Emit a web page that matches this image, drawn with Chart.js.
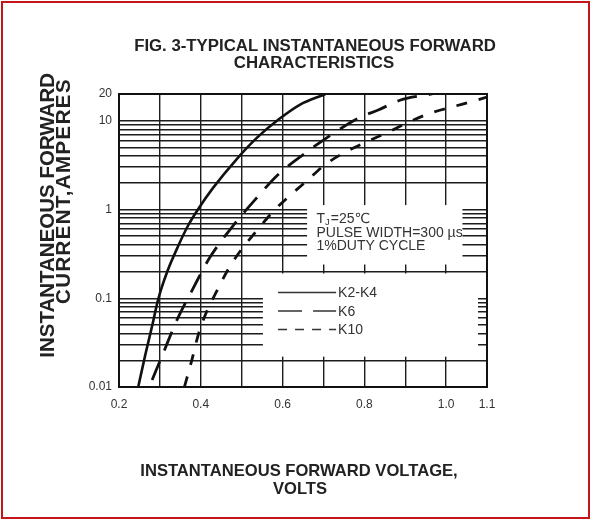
<!DOCTYPE html>
<html><head><meta charset="utf-8">
<script src="https://cdn.jsdelivr.net/npm/chart.js@4.4.1/dist/chart.umd.min.js"></script>
<style>
html,body{margin:0;padding:0;background:#fff;}
#wrap{position:relative;width:592px;height:520px;overflow:hidden;}
#frame{position:absolute;left:1px;top:1px;width:585px;height:514px;border:2px solid #c3161c;pointer-events:none;}
canvas{position:absolute;left:0;top:0;}
</style></head><body>
<div id="wrap"><canvas id="c" width="592" height="520"></canvas><div id="frame"></div></div>
<script>
// ---- text ----
const titleLines = ['FIG. 3-TYPICAL INSTANTANEOUS FORWARD', 'CHARACTERISTICS'];
const xTitleLines = ['INSTANTANEOUS FORWARD VOLTAGE,', 'VOLTS'];
const yTitleLines = ['INSTANTANEOUS FORWARD', 'CURRENT,AMPERES'];
const seriesNames = ['K2-K4', 'K6', 'K10'];
const noteLines = ['=25\u2103', 'PULSE WIDTH=300 \u00b5s', '1%DUTY CYCLE'];

// ---- ticks ----
const xTicks = [0.2, 0.3, 0.4, 0.5, 0.6, 0.7, 0.8, 0.9, 1.0, 1.1];
const xTickLabels = ['0.2', '', '0.4', '', '0.6', '', '0.8', '', '1.0', '1.1'];
const yTicks = [0.01, 0.02, 0.03, 0.04, 0.05, 0.06, 0.07, 0.08, 0.09,
                0.1, 0.2, 0.3, 0.4, 0.5, 0.6, 0.7, 0.8, 0.9,
                1, 2, 3, 4, 5, 6, 7, 8, 9, 10, 20];
const yTickLabels = ['0.01', '', '', '', '', '', '', '', '',
                     '0.1', '', '', '', '', '', '', '', '',
                     '1', '', '', '', '', '', '', '', '', '10', '20'];

// ---- series (V in volts, I in amperes) ----
const k24V = [0.247, 0.264, 0.282, 0.296, 0.317, 0.345, 0.369, 0.393, 0.43, 0.488, 0.537, 0.59, 0.643, 0.705];
const k24I = [0.01, 0.0227, 0.051, 0.098, 0.194, 0.39, 0.66, 1.0, 1.75, 3.7, 6.4, 10.3, 15.2, 20];
const k6V = [0.281, 0.308, 0.341, 0.38, 0.422, 0.476, 0.533, 0.59, 0.655, 0.728, 0.789, 0.834, 0.887, 0.966];
const k6I = [0.012, 0.024, 0.056, 0.126, 0.287, 0.63, 1.29, 2.49, 4.3, 7.4, 10.9, 13.2, 17, 20];
const k10V = [0.36, 0.378, 0.394, 0.414, 0.439, 0.467, 0.5, 0.537, 0.577, 0.614, 0.659, 0.704, 0.752, 0.806, 0.858, 0.907, 0.962, 1.017, 1.074, 1.1];
const k10I = [0.01, 0.02, 0.039, 0.07, 0.12, 0.212, 0.357, 0.577, 0.95, 1.38, 2.1, 3.2, 4.4, 5.78, 7.44, 9.58, 12.2, 14.4, 17, 18.5];

const FONT = "'Liberation Sans', Arial, 'DejaVu Sans', sans-serif";
const toPts = (xs, ys) => xs.map((v, i) => ({x: v, y: ys[i]}));

const decor = {
  id: 'decor',
  beforeDatasetsDraw(chart) {
    const {ctx, chartArea: a, scales: {x, y}} = chart;
    ctx.save();
    ctx.fillStyle = '#fff';
    // blank panel behind the test-condition note
    let x0 = x.getPixelForValue(0.66), x1 = x.getPixelForValue(1.04);
    let y0 = y.getPixelForValue(1.12), y1 = y.getPixelForValue(0.24);
    ctx.fillRect(x0, y0, x1 - x0, y1 - y0);
    // blank panel behind the legend
    x0 = x.getPixelForValue(0.552); x1 = x.getPixelForValue(1.078);
    y0 = y.getPixelForValue(0.19); y1 = y.getPixelForValue(0.022);
    ctx.fillRect(x0, y0, x1 - x0, y1 - y0);
    // frame
    ctx.strokeStyle = '#111';
    ctx.lineWidth = 2;
    ctx.strokeRect(a.left, a.top, a.right - a.left, a.bottom - a.top);
    ctx.restore();
  },
  afterDraw(chart) {
    const {ctx, scales: {x, y}} = chart;
    ctx.save();
    ctx.fillStyle = '#222';
    ctx.textBaseline = 'middle';
    // main title
    ctx.textAlign = 'center';
    ctx.font = 'bold 16.8px ' + FONT;
    ctx.fillText(titleLines[0], 315, 46);
    ctx.fillText(titleLines[1], 314, 63);
    // x title
    ctx.font = 'bold 16.6px ' + FONT;
    ctx.fillText(xTitleLines[0], 299, 471);
    ctx.fillText(xTitleLines[1], 300, 489);
    // y title (rotated)
    ctx.textAlign = 'right';
    ctx.font = 'bold 20.5px ' + FONT;
    ctx.save(); ctx.translate(48.5, 73); ctx.rotate(-Math.PI / 2);
    ctx.fillText(yTitleLines[0], 0, 0); ctx.restore();
    ctx.save(); ctx.translate(64.5, 78); ctx.rotate(-Math.PI / 2);
    if ('letterSpacing' in ctx) ctx.letterSpacing = '1.4px';
    ctx.fillText(yTitleLines[1], 0, 0); ctx.restore();

    // test-condition note
    ctx.fillStyle = '#333';
    ctx.textAlign = 'left';
    const nx = x.getPixelForValue(0.683);
    const yTop = y.getPixelForValue(1.12), yBot = y.getPixelForValue(0.24);
    const cy = (yTop + yBot) / 2;
    const ly = [cy - 15.5, cy - 2, cy + 11.5];
    ctx.font = '14px ' + FONT;
    ctx.fillText('T', nx, ly[0]);
    const wT = ctx.measureText('T').width;
    ctx.font = '9.5px ' + FONT;
    ctx.fillText('J', nx + wT, ly[0] + 3);
    const wJ = ctx.measureText('J').width;
    ctx.font = '14px ' + FONT;
    ctx.fillText(noteLines[0], nx + wT + wJ + 1, ly[0]);
    ctx.fillText(noteLines[1], nx, ly[1]);
    ctx.fillText(noteLines[2], nx, ly[2]);

    // legend
    const lx0 = x.getPixelForValue(0.589), lx1 = x.getPixelForValue(0.731);
    const lTop = y.getPixelForValue(0.19);
    const rows = [lTop + 19, lTop + 37.5, lTop + 56];
    const dashes = [[], [24, 11], [9, 8]];
    ctx.strokeStyle = '#333';
    ctx.lineWidth = 1.4;
    rows.forEach((ry, i) => {
      ctx.setLineDash(dashes[i]);
      ctx.beginPath(); ctx.moveTo(lx0, ry); ctx.lineTo(lx1, ry); ctx.stroke();
      ctx.fillText(seriesNames[i], lx1 + 2, ry + 1);
    });
    ctx.restore();
  }
};

const lineStyle = {pointRadius: 0, borderColor: '#111', fill: false, cubicInterpolationMode: 'monotone'};

new Chart(document.getElementById('c'), {
  type: 'line',
  data: {
    datasets: [
      Object.assign({label: seriesNames[0], data: toPts(k24V, k24I), borderWidth: 2.6}, lineStyle),
      Object.assign({label: seriesNames[1], data: toPts(k6V, k6I), borderWidth: 2.8, borderDash: [20, 12]}, lineStyle),
      Object.assign({label: seriesNames[2], data: toPts(k10V, k10I), borderWidth: 2.8, borderDash: [11, 12]}, lineStyle)
    ]
  },
  options: {
    responsive: false,
    animation: false,
    layout: {padding: {left: 0, top: 94, right: 105, bottom: 0}},
    plugins: {legend: {display: false}, title: {display: false}, tooltip: {enabled: false}},
    scales: {
      x: {
        type: 'linear', min: 0.2, max: 1.1,
        afterBuildTicks: s => { s.ticks = xTicks.map(v => ({value: v})); },
        afterFit: s => { s.height = 133; },
        grid: {color: '#1c1c1c', lineWidth: 1.4, drawTicks: false},
        border: {display: true, color: '#111', width: 2},
        ticks: {autoSkip: false, maxRotation: 0, padding: 10, color: '#333',
                font: {family: FONT, size: 12},
                callback: (v, i) => xTickLabels[i]}
      },
      y: {
        type: 'logarithmic', min: 0.01, max: 20,
        afterBuildTicks: s => { s.ticks = yTicks.map(v => ({value: v})); },
        afterFit: s => { s.width = 119; },
        grid: {color: '#1c1c1c', lineWidth: 1.4, drawTicks: false},
        border: {display: true, color: '#111', width: 2},
        ticks: {autoSkip: false, padding: 7, color: '#333',
                font: {family: FONT, size: 12},
                callback: (v, i) => yTickLabels[i]}
      }
    }
  },
  plugins: [decor]
});
</script>
</body></html>
